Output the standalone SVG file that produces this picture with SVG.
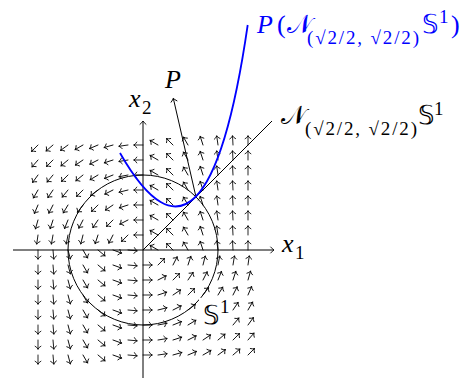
<svg xmlns="http://www.w3.org/2000/svg" width="470" height="378" viewBox="0 0 470 378">
<style>
.ax{stroke:#000;stroke-width:1;fill:none}
.vf{stroke:#000;stroke-width:0.85;fill:none;stroke-linecap:round}
.bl{stroke:#0000ff;stroke-width:1.8;fill:none}
.t{font-family:"Liberation Serif",serif;font-size:26px}
.s{font-family:"Liberation Serif",serif;font-size:19px}
.i{font-style:italic}
.b{fill:#0000ff}
</style>
<defs>
<path id="a" d="M0,0H9.2M6.2,-2.9Q7.4,-0.8 9.2,0Q7.4,0.8 6.2,2.9"/>
<marker id="h" markerUnits="userSpaceOnUse" markerWidth="10" markerHeight="10" viewBox="-5 -5 10 10" refX="0" refY="0" orient="auto">
<path d="M-3.3,-3Q-1.3,-0.7 0,0Q-1.3,0.7 -3.3,3" stroke="#000" stroke-width="0.9" fill="none" stroke-linecap="round"/>
</marker>
</defs>
<rect width="470" height="378" fill="#fff"/>
<g id="vector-field" class="vf">
<use href="#a" transform="translate(38 145)rotate(135)"/><use href="#a" transform="translate(53 145)rotate(139)"/><use href="#a" transform="translate(68 145)rotate(144)"/><use href="#a" transform="translate(83 145)rotate(150)"/><use href="#a" transform="translate(98 145)rotate(157)"/><use href="#a" transform="translate(113 145)rotate(164)"/><use href="#a" transform="translate(128 145)rotate(172)"/><use href="#a" transform="translate(143 145)rotate(180)"/><use href="#a" transform="translate(158 145)rotate(-150)"/><use href="#a" transform="translate(173 145)rotate(-135)"/><use href="#a" transform="translate(188 145)rotate(-120)"/><use href="#a" transform="translate(203 145)rotate(-108)"/><use href="#a" transform="translate(218 145)rotate(-98)"/><use href="#a" transform="translate(233 145)rotate(-93)"/><use href="#a" transform="translate(248 145)rotate(-90)"/>
<use href="#a" transform="translate(38 160)rotate(131)"/><use href="#a" transform="translate(53 160)rotate(135)"/><use href="#a" transform="translate(68 160)rotate(140)"/><use href="#a" transform="translate(83 160)rotate(146)"/><use href="#a" transform="translate(98 160)rotate(153)"/><use href="#a" transform="translate(113 160)rotate(162)"/><use href="#a" transform="translate(128 160)rotate(171)"/><use href="#a" transform="translate(143 160)rotate(180)"/><use href="#a" transform="translate(158 160)rotate(-150)"/><use href="#a" transform="translate(173 160)rotate(-135)"/><use href="#a" transform="translate(188 160)rotate(-120)"/><use href="#a" transform="translate(203 160)rotate(-108)"/><use href="#a" transform="translate(218 160)rotate(-98)"/><use href="#a" transform="translate(233 160)rotate(-93)"/><use href="#a" transform="translate(248 160)rotate(-90)"/>
<use href="#a" transform="translate(38 175)rotate(126)"/><use href="#a" transform="translate(53 175)rotate(130)"/><use href="#a" transform="translate(68 175)rotate(135)"/><use href="#a" transform="translate(83 175)rotate(141)"/><use href="#a" transform="translate(98 175)rotate(149)"/><use href="#a" transform="translate(113 175)rotate(158)"/><use href="#a" transform="translate(128 175)rotate(169)"/><use href="#a" transform="translate(143 175)rotate(180)"/><use href="#a" transform="translate(158 175)rotate(-150)"/><use href="#a" transform="translate(173 175)rotate(-135)"/><use href="#a" transform="translate(188 175)rotate(-120)"/><use href="#a" transform="translate(203 175)rotate(-108)"/><use href="#a" transform="translate(218 175)rotate(-98)"/><use href="#a" transform="translate(233 175)rotate(-93)"/><use href="#a" transform="translate(248 175)rotate(-90)"/>
<use href="#a" transform="translate(38 190)rotate(120)"/><use href="#a" transform="translate(53 190)rotate(124)"/><use href="#a" transform="translate(68 190)rotate(129)"/><use href="#a" transform="translate(83 190)rotate(135)"/><use href="#a" transform="translate(98 190)rotate(143)"/><use href="#a" transform="translate(113 190)rotate(153)"/><use href="#a" transform="translate(128 190)rotate(166)"/><use href="#a" transform="translate(143 190)rotate(180)"/><use href="#a" transform="translate(158 190)rotate(-150)"/><use href="#a" transform="translate(173 190)rotate(-135)"/><use href="#a" transform="translate(188 190)rotate(-120)"/><use href="#a" transform="translate(203 190)rotate(-108)"/><use href="#a" transform="translate(218 190)rotate(-98)"/><use href="#a" transform="translate(233 190)rotate(-93)"/><use href="#a" transform="translate(248 190)rotate(-90)"/>
<use href="#a" transform="translate(38 205)rotate(113)"/><use href="#a" transform="translate(53 205)rotate(117)"/><use href="#a" transform="translate(68 205)rotate(121)"/><use href="#a" transform="translate(83 205)rotate(127)"/><use href="#a" transform="translate(98 205)rotate(135)"/><use href="#a" transform="translate(113 205)rotate(146)"/><use href="#a" transform="translate(128 205)rotate(162)"/><use href="#a" transform="translate(143 205)rotate(180)"/><use href="#a" transform="translate(158 205)rotate(-150)"/><use href="#a" transform="translate(173 205)rotate(-135)"/><use href="#a" transform="translate(188 205)rotate(-120)"/><use href="#a" transform="translate(203 205)rotate(-108)"/><use href="#a" transform="translate(218 205)rotate(-98)"/><use href="#a" transform="translate(233 205)rotate(-93)"/><use href="#a" transform="translate(248 205)rotate(-90)"/>
<use href="#a" transform="translate(38 220)rotate(106)"/><use href="#a" transform="translate(53 220)rotate(108)"/><use href="#a" transform="translate(68 220)rotate(112)"/><use href="#a" transform="translate(83 220)rotate(117)"/><use href="#a" transform="translate(98 220)rotate(124)"/><use href="#a" transform="translate(113 220)rotate(135)"/><use href="#a" transform="translate(128 220)rotate(153)"/><use href="#a" transform="translate(143 220)rotate(180)"/><use href="#a" transform="translate(158 220)rotate(-150)"/><use href="#a" transform="translate(173 220)rotate(-135)"/><use href="#a" transform="translate(188 220)rotate(-120)"/><use href="#a" transform="translate(203 220)rotate(-108)"/><use href="#a" transform="translate(218 220)rotate(-98)"/><use href="#a" transform="translate(233 220)rotate(-93)"/><use href="#a" transform="translate(248 220)rotate(-90)"/>
<use href="#a" transform="translate(38 235)rotate(98)"/><use href="#a" transform="translate(53 235)rotate(100)"/><use href="#a" transform="translate(68 235)rotate(101)"/><use href="#a" transform="translate(83 235)rotate(104)"/><use href="#a" transform="translate(98 235)rotate(108)"/><use href="#a" transform="translate(113 235)rotate(117)"/><use href="#a" transform="translate(128 235)rotate(135)"/><use href="#a" transform="translate(143 235)rotate(180)"/><use href="#a" transform="translate(158 235)rotate(-150)"/><use href="#a" transform="translate(173 235)rotate(-135)"/><use href="#a" transform="translate(188 235)rotate(-120)"/><use href="#a" transform="translate(203 235)rotate(-108)"/><use href="#a" transform="translate(218 235)rotate(-98)"/><use href="#a" transform="translate(233 235)rotate(-93)"/><use href="#a" transform="translate(248 235)rotate(-90)"/>
<use href="#a" transform="translate(38 250)rotate(90)"/><use href="#a" transform="translate(53 250)rotate(85)"/><use href="#a" transform="translate(68 250)rotate(75)"/><use href="#a" transform="translate(83 250)rotate(60)"/><use href="#a" transform="translate(98 250)rotate(40)"/><use href="#a" transform="translate(113 250)rotate(20)"/><use href="#a" transform="translate(128 250)rotate(5)"/><use href="#a" transform="translate(158 250)rotate(-150)"/><use href="#a" transform="translate(173 250)rotate(-135)"/><use href="#a" transform="translate(188 250)rotate(-120)"/><use href="#a" transform="translate(203 250)rotate(-108)"/><use href="#a" transform="translate(218 250)rotate(-98)"/><use href="#a" transform="translate(233 250)rotate(-93)"/><use href="#a" transform="translate(248 250)rotate(-90)"/>
<use href="#a" transform="translate(38 265)rotate(90)"/><use href="#a" transform="translate(53 265)rotate(85)"/><use href="#a" transform="translate(68 265)rotate(75)"/><use href="#a" transform="translate(83 265)rotate(60)"/><use href="#a" transform="translate(98 265)rotate(40)"/><use href="#a" transform="translate(113 265)rotate(20)"/><use href="#a" transform="translate(128 265)rotate(5)"/><use href="#a" transform="translate(143 265)rotate(0)"/><use href="#a" transform="translate(158 265)rotate(-45)"/><use href="#a" transform="translate(173 265)rotate(-63)"/><use href="#a" transform="translate(188 265)rotate(-72)"/><use href="#a" transform="translate(203 265)rotate(-76)"/><use href="#a" transform="translate(218 265)rotate(-79)"/><use href="#a" transform="translate(233 265)rotate(-81)"/><use href="#a" transform="translate(248 265)rotate(-82)"/>
<use href="#a" transform="translate(38 280)rotate(90)"/><use href="#a" transform="translate(53 280)rotate(85)"/><use href="#a" transform="translate(68 280)rotate(75)"/><use href="#a" transform="translate(83 280)rotate(60)"/><use href="#a" transform="translate(98 280)rotate(40)"/><use href="#a" transform="translate(113 280)rotate(20)"/><use href="#a" transform="translate(128 280)rotate(5)"/><use href="#a" transform="translate(143 280)rotate(0)"/><use href="#a" transform="translate(158 280)rotate(-27)"/><use href="#a" transform="translate(173 280)rotate(-45)"/><use href="#a" transform="translate(188 280)rotate(-56)"/><use href="#a" transform="translate(203 280)rotate(-63)"/><use href="#a" transform="translate(218 280)rotate(-68)"/><use href="#a" transform="translate(233 280)rotate(-72)"/><use href="#a" transform="translate(248 280)rotate(-74)"/>
<use href="#a" transform="translate(38 295)rotate(90)"/><use href="#a" transform="translate(53 295)rotate(85)"/><use href="#a" transform="translate(68 295)rotate(75)"/><use href="#a" transform="translate(83 295)rotate(60)"/><use href="#a" transform="translate(98 295)rotate(40)"/><use href="#a" transform="translate(113 295)rotate(20)"/><use href="#a" transform="translate(128 295)rotate(5)"/><use href="#a" transform="translate(143 295)rotate(0)"/><use href="#a" transform="translate(158 295)rotate(-18)"/><use href="#a" transform="translate(173 295)rotate(-34)"/><use href="#a" transform="translate(188 295)rotate(-45)"/><use href="#a" transform="translate(203 295)rotate(-53)"/><use href="#a" transform="translate(218 295)rotate(-59)"/><use href="#a" transform="translate(233 295)rotate(-63)"/><use href="#a" transform="translate(248 295)rotate(-67)"/>
<use href="#a" transform="translate(38 310)rotate(90)"/><use href="#a" transform="translate(53 310)rotate(85)"/><use href="#a" transform="translate(68 310)rotate(75)"/><use href="#a" transform="translate(83 310)rotate(60)"/><use href="#a" transform="translate(98 310)rotate(40)"/><use href="#a" transform="translate(113 310)rotate(20)"/><use href="#a" transform="translate(128 310)rotate(5)"/><use href="#a" transform="translate(143 310)rotate(0)"/><use href="#a" transform="translate(158 310)rotate(-14)"/><use href="#a" transform="translate(173 310)rotate(-27)"/><use href="#a" transform="translate(188 310)rotate(-37)"/><use href="#a" transform="translate(203 310)rotate(-45)"/><use href="#a" transform="translate(218 310)rotate(-51)"/><use href="#a" transform="translate(233 310)rotate(-56)"/><use href="#a" transform="translate(248 310)rotate(-60)"/>
<use href="#a" transform="translate(38 325)rotate(90)"/><use href="#a" transform="translate(53 325)rotate(85)"/><use href="#a" transform="translate(68 325)rotate(75)"/><use href="#a" transform="translate(83 325)rotate(60)"/><use href="#a" transform="translate(98 325)rotate(40)"/><use href="#a" transform="translate(113 325)rotate(20)"/><use href="#a" transform="translate(128 325)rotate(5)"/><use href="#a" transform="translate(143 325)rotate(0)"/><use href="#a" transform="translate(158 325)rotate(-11)"/><use href="#a" transform="translate(173 325)rotate(-22)"/><use href="#a" transform="translate(188 325)rotate(-31)"/><use href="#a" transform="translate(203 325)rotate(-39)"/><use href="#a" transform="translate(218 325)rotate(-45)"/><use href="#a" transform="translate(233 325)rotate(-50)"/><use href="#a" transform="translate(248 325)rotate(-54)"/>
<use href="#a" transform="translate(38 340)rotate(90)"/><use href="#a" transform="translate(53 340)rotate(85)"/><use href="#a" transform="translate(68 340)rotate(75)"/><use href="#a" transform="translate(83 340)rotate(60)"/><use href="#a" transform="translate(98 340)rotate(40)"/><use href="#a" transform="translate(113 340)rotate(20)"/><use href="#a" transform="translate(128 340)rotate(5)"/><use href="#a" transform="translate(143 340)rotate(0)"/><use href="#a" transform="translate(158 340)rotate(-9)"/><use href="#a" transform="translate(173 340)rotate(-18)"/><use href="#a" transform="translate(188 340)rotate(-27)"/><use href="#a" transform="translate(203 340)rotate(-34)"/><use href="#a" transform="translate(218 340)rotate(-40)"/><use href="#a" transform="translate(233 340)rotate(-45)"/><use href="#a" transform="translate(248 340)rotate(-49)"/>
<use href="#a" transform="translate(38 355)rotate(90)"/><use href="#a" transform="translate(53 355)rotate(85)"/><use href="#a" transform="translate(68 355)rotate(75)"/><use href="#a" transform="translate(83 355)rotate(60)"/><use href="#a" transform="translate(98 355)rotate(40)"/><use href="#a" transform="translate(113 355)rotate(20)"/><use href="#a" transform="translate(128 355)rotate(5)"/><use href="#a" transform="translate(143 355)rotate(0)"/><use href="#a" transform="translate(158 355)rotate(-8)"/><use href="#a" transform="translate(173 355)rotate(-16)"/><use href="#a" transform="translate(188 355)rotate(-23)"/><use href="#a" transform="translate(203 355)rotate(-30)"/><use href="#a" transform="translate(218 355)rotate(-36)"/><use href="#a" transform="translate(233 355)rotate(-41)"/><use href="#a" transform="translate(248 355)rotate(-45)"/>
</g>
<g id="connectors">
<g id="axis-x1"><line class="ax" x1="13" y1="250" x2="274" y2="250" marker-end="url(#h)"/></g>
<g id="axis-x2"><line class="ax" x1="143" y1="378" x2="143" y2="121" marker-end="url(#h)"/></g>
<g id="circle-S1"><circle class="ax" cx="143" cy="250" r="75"/></g>
<g id="normal-line"><line class="ax" x1="143" y1="250" x2="272" y2="121"/></g>
<g id="P-arrow"><line class="ax" x1="196" y1="197" x2="173.3" y2="98.3" marker-end="url(#h)"/></g>
<g id="parabola"><path class="bl" d="M120,153Q207,305 247.7,25"/></g>
</g>
<g id="labels">
<g id="label-x1"><text class="t i" x="282" y="252">x</text><text class="s" x="295" y="259">1</text></g>
<g id="label-x2"><text class="t i" x="129" y="107">x</text><text class="s" x="142" y="114">2</text></g>
<g id="label-P"><text class="t i" x="165" y="88">P</text></g>
<g id="label-S1"><rect x="199" y="298" width="32" height="31" fill="#fff"/><text class="t" x="203" y="324">𝕊</text><text class="s" x="220" y="313">1</text></g>
<g id="label-N"><text class="t" x="281" y="124">𝒩</text><text class="s" x="305" y="135" textLength="112" lengthAdjust="spacing">(√2/2, √2/2)</text><text class="t" x="418" y="124">𝕊</text><text class="s" x="434" y="115">1</text></g>
<g id="label-PN"><text class="t i b" x="257" y="33">P</text><text class="t b" x="277" y="33">(</text><text class="t b" x="287" y="33">𝒩</text><text class="s b" x="307" y="44" textLength="112" lengthAdjust="spacing">(√2/2, √2/2)</text><text class="t b" x="422" y="33">𝕊</text><text class="s b" x="439" y="23">1</text><text class="t b" x="451" y="33">)</text></g>
</g>
</svg>
